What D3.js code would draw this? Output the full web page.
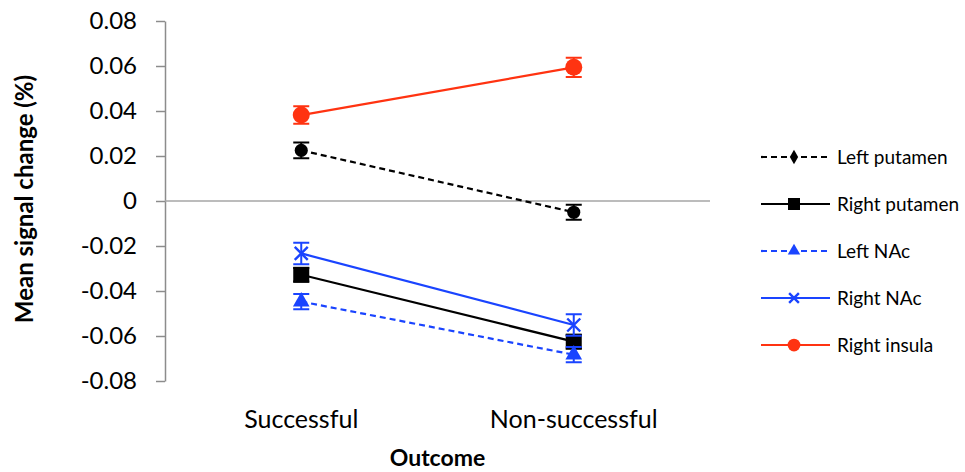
<!DOCTYPE html>
<html>
<head>
<meta charset="utf-8">
<script src="https://cdn.jsdelivr.net/npm/d3@7"></script>
<style>
  html, body { margin: 0; padding: 0; background: #fff; }
  svg { display: block; }
  text { font-family: Lato, "Open Sans", sans-serif; fill: #000; }
</style>
</head>
<body>
<svg id="chart" width="965" height="472"></svg>
<script>
// Outcome categories and tick values
const categories = ["Successful", "Non-successful"];
const yTicks = [-0.08, -0.06, -0.04, -0.02, 0, 0.02, 0.04, 0.06, 0.08];

// Mean signal change per region, with standard error
const seriesNames = ["Left putamen", "Right putamen", "Left NAc", "Right NAc", "Right insula"];
const leftPutamen = [0.0225, -0.0050];
const leftPutamenErr = [0.0035, 0.0033];
const rightPutamen = [-0.0328, -0.0625];
const rightPutamenErr = [0.0030, 0.0030];
const leftNAc = [-0.0447, -0.0683];
const leftNAcErr = [0.0034, 0.0034];
const rightNAc = [-0.0233, -0.0551];
const rightNAcErr = [0.0048, 0.0048];
const rightInsula = [0.0382, 0.0594];
const rightInsulaErr = [0.0039, 0.0043];

const RED = "#ff3311", BLUE = "#1a44ff", BLACK = "#000";

const series = [
  { name: seriesNames[0], values: leftPutamen, errors: leftPutamenErr, color: BLACK, dash: "6,4", marker: "diamond" },
  { name: seriesNames[1], values: rightPutamen, errors: rightPutamenErr, color: BLACK, dash: null, marker: "square" },
  { name: seriesNames[2], values: leftNAc, errors: leftNAcErr, color: BLUE, dash: "6,4", marker: "triangle" },
  { name: seriesNames[3], values: rightNAc, errors: rightNAcErr, color: BLUE, dash: null, marker: "x" },
  { name: seriesNames[4], values: rightInsula, errors: rightInsulaErr, color: RED, dash: null, marker: "circle" }
];

const svg = d3.select("#chart");
const plot = { left: 165, right: 710, top: 21, bottom: 381 };

const x = d3.scalePoint().domain(categories).range([plot.left, plot.right]).padding(0.5);
const y = d3.scaleLinear().domain([-0.08, 0.08]).range([plot.bottom, plot.top]);

const fmt = d => d === 0 ? "0" : d.toFixed(2);

// Y axis
const yAxis = svg.append("g")
  .attr("transform", `translate(${plot.left},0)`)
  .call(d3.axisLeft(y).tickValues(yTicks).tickFormat(fmt).tickSize(9).tickSizeOuter(0).tickPadding(19));
yAxis.select(".domain").attr("stroke", "#8c8c8c").attr("stroke-width", 1.5);
yAxis.selectAll(".tick line").attr("stroke", "#8c8c8c").attr("stroke-width", 1.5);
yAxis.selectAll(".tick text")
  .attr("font-size", 24)
  .attr("font-family", "Lato, sans-serif")
  .attr("fill", "#000");

// Zero line
svg.append("line")
  .attr("x1", plot.left).attr("x2", plot.right)
  .attr("y1", y(0)).attr("y2", y(0))
  .attr("stroke", "#a6a6a6").attr("stroke-width", 1.5);

// Category labels
svg.append("g").selectAll("text")
  .data(categories).join("text")
  .attr("x", d => x(d)).attr("y", 428)
  .attr("text-anchor", "middle")
  .attr("font-size", 25)
  .text(d => d);

// Axis titles
svg.append("text")
  .attr("x", (plot.left + plot.right) / 2).attr("y", 466)
  .attr("text-anchor", "middle")
  .attr("font-size", 23).attr("font-weight", "bold")
  .text("Outcome");

svg.append("text")
  .attr("transform", `translate(33,199) rotate(-90)`)
  .attr("text-anchor", "middle")
  .attr("font-size", 24).attr("font-weight", "bold")
  .text("Mean signal change (%)");

// Marker drawing
function drawMarker(g, type, cx, cy, color, scale) {
  const s = scale;
  if (type === "circle") {
    g.append("circle").attr("cx", cx).attr("cy", cy).attr("r", 8.5 * s).attr("fill", color);
  } else if (type === "diamond") {
    g.append("path")
      .attr("d", d3.symbol().type(d3.symbolCircle).size(135 * s * s)())
      .attr("transform", `translate(${cx},${cy})`)
      .attr("fill", color);
  } else if (type === "square") {
    const h = 8 * s;
    g.append("rect").attr("x", cx - h).attr("y", cy - h).attr("width", 2 * h).attr("height", 2 * h).attr("fill", color);
  } else if (type === "triangle") {
    g.append("path")
      .attr("d", d3.symbol().type(d3.symbolTriangle).size(120 * s * s)())
      .attr("transform", `translate(${cx},${cy})`)
      .attr("fill", color);
  } else if (type === "x") {
    const h = 6.5 * s;
    g.append("path")
      .attr("d", `M${cx - h},${cy - h}L${cx + h},${cy + h}M${cx - h},${cy + h}L${cx + h},${cy - h}`)
      .attr("stroke", color).attr("stroke-width", 2.4).attr("fill", "none");
  }
}

// Series: line, error bars, markers
const line = d3.line().x((d, i) => x(categories[i])).y(d => y(d));
series.forEach(s => {
  const g = svg.append("g");
  g.append("path")
    .attr("d", line(s.values))
    .attr("fill", "none")
    .attr("stroke", s.color)
    .attr("stroke-width", 2.2)
    .attr("stroke-dasharray", s.dash);
  s.values.forEach((v, i) => {
    const cx = x(categories[i]);
    const top = y(v + s.errors[i]), bot = y(v - s.errors[i]);
    g.append("path")
      .attr("d", `M${cx},${top}L${cx},${bot}M${cx - 8},${top}L${cx + 8},${top}M${cx - 8},${bot}L${cx + 8},${bot}`)
      .attr("stroke", s.color).attr("stroke-width", 2).attr("fill", "none");
    drawMarker(g, s.marker, cx, y(v), s.color, 1);
  });
});

// Legend
const legendY = [157, 204, 251, 298, 345];
const legend = svg.append("g");
series.forEach((s, i) => {
  const ly = legendY[i];
  legend.append("line")
    .attr("x1", 761).attr("x2", 830).attr("y1", ly).attr("y2", ly)
    .attr("stroke", s.color).attr("stroke-width", 2.2)
    .attr("stroke-dasharray", s.dash);
  if (s.marker === "diamond") {
    legend.append("path")
      .attr("d", d3.symbol().type(d3.symbolDiamond).size(60)())
      .attr("transform", `translate(794,${ly})`)
      .attr("fill", s.color);
  } else {
    drawMarker(legend, s.marker, 794, ly, s.color, 0.75);
  }
  legend.append("text")
    .attr("x", 837).attr("y", ly).attr("dy", "0.35em")
    .attr("font-size", 19)
    .text(s.name);
});
</script>
</body>
</html>
